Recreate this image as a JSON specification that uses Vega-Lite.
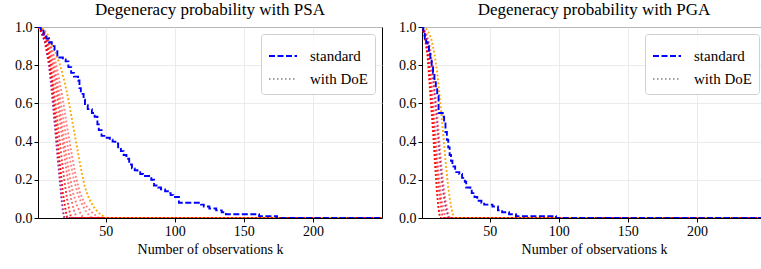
{
  "$schema": "https://vega.github.io/schema/vega-lite/v6.json",
  "padding": {"left": 14, "top": 0, "right": 0, "bottom": 0},
  "background": "white",
  "spacing": 15,
  "config": {
    "font": "Liberation Serif",
    "view": {"stroke": "black", "strokeWidth": 1},
    "title": {"font": "Liberation Serif", "fontSize": 17, "fontWeight": "normal", "color": "black", "offset": 1},
    "axis": {
      "labelFont": "Liberation Serif", "labelFontSize": 14, "labelColor": "black",
      "titleFont": "Liberation Serif", "titleFontSize": 14, "titleFontWeight": "normal", "titleColor": "black",
      "domainColor": "black", "tickColor": "black", "tickSize": 4, "labelPadding": 2,
      "gridColor": "#e6e6e6", "gridWidth": 0.8, "labelOverlap": false, "labelFlush": false
    },
    "legend": {
      "orient": "top-right", "offset": 7, "padding": 7, "strokeColor": "#d0d0d0",
      "fillColor": "rgba(255,255,255,0.85)", "cornerRadius": 3,
      "labelFont": "Liberation Serif", "labelFontSize": 15, "labelColor": "black",
      "symbolType": "stroke", "symbolSize": 784, "symbolStrokeWidth": 1.8,
      "rowPadding": 0, "labelOffset": 12, "title": null
    }
  },
  "resolve": {"scale": {"color": "independent"}},
  "datasets": {
    "psa_std": [
      {"k": 1, "p": 1.0}, {"k": 3, "p": 0.98}, {"k": 5, "p": 0.96}, {"k": 7, "p": 0.94}, {"k": 9, "p": 0.92},
      {"k": 11, "p": 0.9}, {"k": 13, "p": 0.88}, {"k": 15, "p": 0.84}, {"k": 19, "p": 0.83}, {"k": 21, "p": 0.82},
      {"k": 23, "p": 0.79}, {"k": 25, "p": 0.76}, {"k": 27, "p": 0.74}, {"k": 30, "p": 0.72}, {"k": 31, "p": 0.68},
      {"k": 32, "p": 0.65}, {"k": 34, "p": 0.62}, {"k": 35, "p": 0.59}, {"k": 37, "p": 0.57}, {"k": 40, "p": 0.55},
      {"k": 42, "p": 0.53}, {"k": 44, "p": 0.49}, {"k": 45, "p": 0.46}, {"k": 47, "p": 0.43}, {"k": 49, "p": 0.42},
      {"k": 53, "p": 0.41}, {"k": 55, "p": 0.4}, {"k": 57, "p": 0.39}, {"k": 59, "p": 0.37}, {"k": 61, "p": 0.35},
      {"k": 63, "p": 0.33}, {"k": 65, "p": 0.31}, {"k": 67, "p": 0.28}, {"k": 69, "p": 0.26}, {"k": 71, "p": 0.25},
      {"k": 73, "p": 0.24}, {"k": 75, "p": 0.23}, {"k": 77, "p": 0.22}, {"k": 83, "p": 0.2}, {"k": 85, "p": 0.17},
      {"k": 88, "p": 0.16}, {"k": 90, "p": 0.15}, {"k": 93, "p": 0.14}, {"k": 95, "p": 0.13}, {"k": 97, "p": 0.12},
      {"k": 99, "p": 0.11}, {"k": 103, "p": 0.08}, {"k": 119, "p": 0.07}, {"k": 121, "p": 0.06}, {"k": 125, "p": 0.05},
      {"k": 130, "p": 0.04}, {"k": 134, "p": 0.03}, {"k": 137, "p": 0.02}, {"k": 161, "p": 0.01}, {"k": 174, "p": 0.0},
      {"k": 250, "p": 0.0}
    ],
    "pga_std": [
      {"k": 1, "p": 1.0}, {"k": 2, "p": 0.97}, {"k": 3, "p": 0.94}, {"k": 4, "p": 0.92}, {"k": 5, "p": 0.9},
      {"k": 6, "p": 0.86}, {"k": 7, "p": 0.83}, {"k": 8, "p": 0.79}, {"k": 9, "p": 0.76}, {"k": 10, "p": 0.72},
      {"k": 11, "p": 0.68}, {"k": 12, "p": 0.64}, {"k": 13, "p": 0.55}, {"k": 16, "p": 0.53}, {"k": 17, "p": 0.5},
      {"k": 18, "p": 0.45}, {"k": 19, "p": 0.41}, {"k": 20, "p": 0.37}, {"k": 21, "p": 0.33}, {"k": 22, "p": 0.3},
      {"k": 23, "p": 0.27}, {"k": 25, "p": 0.24}, {"k": 28, "p": 0.23}, {"k": 30, "p": 0.21}, {"k": 32, "p": 0.19},
      {"k": 33, "p": 0.16}, {"k": 36, "p": 0.15}, {"k": 37, "p": 0.13}, {"k": 39, "p": 0.11}, {"k": 41, "p": 0.09},
      {"k": 44, "p": 0.08}, {"k": 46, "p": 0.07}, {"k": 52, "p": 0.06}, {"k": 56, "p": 0.04}, {"k": 59, "p": 0.03},
      {"k": 64, "p": 0.02}, {"k": 69, "p": 0.01}, {"k": 98, "p": 0.0}, {"k": 250, "p": 0.0}
    ],
    "psa_doe": [
      {"run": "L1", "k": 1, "p": 1}, {"run": "L1", "k": 3, "p": 0.98}, {"run": "L1", "k": 6, "p": 0.92}, {"run": "L1", "k": 9, "p": 0.8}, {"run": "L1", "k": 11, "p": 0.66}, {"run": "L1", "k": 13, "p": 0.5}, {"run": "L1", "k": 15, "p": 0.33}, {"run": "L1", "k": 17, "p": 0.18}, {"run": "L1", "k": 18, "p": 0.1}, {"run": "L1", "k": 19, "p": 0.04}, {"run": "L1", "k": 20, "p": 0}, {"run": "L1", "k": 250, "p": 0},
      {"run": "L2", "k": 1, "p": 1}, {"run": "L2", "k": 3, "p": 0.98}, {"run": "L2", "k": 6, "p": 0.93}, {"run": "L2", "k": 9, "p": 0.83}, {"run": "L2", "k": 11, "p": 0.72}, {"run": "L2", "k": 13, "p": 0.57}, {"run": "L2", "k": 15, "p": 0.42}, {"run": "L2", "k": 17, "p": 0.27}, {"run": "L2", "k": 19, "p": 0.13}, {"run": "L2", "k": 21, "p": 0.04}, {"run": "L2", "k": 22, "p": 0}, {"run": "L2", "k": 250, "p": 0},
      {"run": "L3", "k": 1, "p": 1}, {"run": "L3", "k": 4, "p": 0.98}, {"run": "L3", "k": 7, "p": 0.93}, {"run": "L3", "k": 10, "p": 0.82}, {"run": "L3", "k": 12, "p": 0.7}, {"run": "L3", "k": 14, "p": 0.58}, {"run": "L3", "k": 16, "p": 0.45}, {"run": "L3", "k": 18, "p": 0.32}, {"run": "L3", "k": 20, "p": 0.2}, {"run": "L3", "k": 22, "p": 0.1}, {"run": "L3", "k": 24, "p": 0.03}, {"run": "L3", "k": 25, "p": 0}, {"run": "L3", "k": 250, "p": 0},
      {"run": "L4", "k": 1, "p": 1}, {"run": "L4", "k": 4, "p": 0.98}, {"run": "L4", "k": 7, "p": 0.94}, {"run": "L4", "k": 10, "p": 0.85}, {"run": "L4", "k": 13, "p": 0.72}, {"run": "L4", "k": 15, "p": 0.62}, {"run": "L4", "k": 17, "p": 0.5}, {"run": "L4", "k": 19, "p": 0.39}, {"run": "L4", "k": 21, "p": 0.28}, {"run": "L4", "k": 23, "p": 0.18}, {"run": "L4", "k": 25, "p": 0.1}, {"run": "L4", "k": 27, "p": 0.04}, {"run": "L4", "k": 29, "p": 0}, {"run": "L4", "k": 250, "p": 0},
      {"run": "L5", "k": 1, "p": 1}, {"run": "L5", "k": 5, "p": 0.98}, {"run": "L5", "k": 8, "p": 0.93}, {"run": "L5", "k": 11, "p": 0.84}, {"run": "L5", "k": 14, "p": 0.72}, {"run": "L5", "k": 17, "p": 0.56}, {"run": "L5", "k": 20, "p": 0.4}, {"run": "L5", "k": 23, "p": 0.26}, {"run": "L5", "k": 26, "p": 0.14}, {"run": "L5", "k": 29, "p": 0.07}, {"run": "L5", "k": 32, "p": 0.02}, {"run": "L5", "k": 34, "p": 0}, {"run": "L5", "k": 250, "p": 0},
      {"run": "L6", "k": 1, "p": 1}, {"run": "L6", "k": 5, "p": 0.98}, {"run": "L6", "k": 9, "p": 0.92}, {"run": "L6", "k": 12, "p": 0.84}, {"run": "L6", "k": 15, "p": 0.72}, {"run": "L6", "k": 18, "p": 0.58}, {"run": "L6", "k": 21, "p": 0.44}, {"run": "L6", "k": 24, "p": 0.31}, {"run": "L6", "k": 27, "p": 0.2}, {"run": "L6", "k": 30, "p": 0.12}, {"run": "L6", "k": 33, "p": 0.07}, {"run": "L6", "k": 36, "p": 0.03}, {"run": "L6", "k": 40, "p": 0}, {"run": "L6", "k": 250, "p": 0},
      {"run": "L7", "k": 1, "p": 1}, {"run": "L7", "k": 5, "p": 0.98}, {"run": "L7", "k": 9, "p": 0.93}, {"run": "L7", "k": 13, "p": 0.84}, {"run": "L7", "k": 16, "p": 0.74}, {"run": "L7", "k": 19, "p": 0.62}, {"run": "L7", "k": 22, "p": 0.48}, {"run": "L7", "k": 25, "p": 0.35}, {"run": "L7", "k": 28, "p": 0.23}, {"run": "L7", "k": 31, "p": 0.14}, {"run": "L7", "k": 35, "p": 0.07}, {"run": "L7", "k": 40, "p": 0.03}, {"run": "L7", "k": 45, "p": 0}, {"run": "L7", "k": 250, "p": 0},
      {"run": "L8", "k": 1, "p": 1}, {"run": "L8", "k": 5, "p": 0.99}, {"run": "L8", "k": 8, "p": 0.96}, {"run": "L8", "k": 11, "p": 0.91}, {"run": "L8", "k": 14, "p": 0.86}, {"run": "L8", "k": 17, "p": 0.8}, {"run": "L8", "k": 20, "p": 0.72}, {"run": "L8", "k": 23, "p": 0.62}, {"run": "L8", "k": 26, "p": 0.5}, {"run": "L8", "k": 29, "p": 0.38}, {"run": "L8", "k": 32, "p": 0.26}, {"run": "L8", "k": 35, "p": 0.16}, {"run": "L8", "k": 38, "p": 0.1}, {"run": "L8", "k": 42, "p": 0.05}, {"run": "L8", "k": 46, "p": 0.02}, {"run": "L8", "k": 50, "p": 0}, {"run": "L8", "k": 250, "p": 0}
    ],
    "pga_doe": [
      {"run": "M1", "k": 1, "p": 1}, {"run": "M1", "k": 3, "p": 0.95}, {"run": "M1", "k": 5, "p": 0.85}, {"run": "M1", "k": 7, "p": 0.65}, {"run": "M1", "k": 9, "p": 0.45}, {"run": "M1", "k": 11, "p": 0.22}, {"run": "M1", "k": 12, "p": 0.12}, {"run": "M1", "k": 13, "p": 0.05}, {"run": "M1", "k": 14, "p": 0}, {"run": "M1", "k": 250, "p": 0},
      {"run": "M2", "k": 1, "p": 1}, {"run": "M2", "k": 3, "p": 0.96}, {"run": "M2", "k": 5, "p": 0.88}, {"run": "M2", "k": 7, "p": 0.72}, {"run": "M2", "k": 9, "p": 0.53}, {"run": "M2", "k": 11, "p": 0.33}, {"run": "M2", "k": 13, "p": 0.16}, {"run": "M2", "k": 15, "p": 0.05}, {"run": "M2", "k": 16, "p": 0}, {"run": "M2", "k": 250, "p": 0},
      {"run": "M3", "k": 1, "p": 1}, {"run": "M3", "k": 3, "p": 0.97}, {"run": "M3", "k": 5, "p": 0.9}, {"run": "M3", "k": 7, "p": 0.78}, {"run": "M3", "k": 9, "p": 0.61}, {"run": "M3", "k": 11, "p": 0.42}, {"run": "M3", "k": 13, "p": 0.24}, {"run": "M3", "k": 15, "p": 0.1}, {"run": "M3", "k": 17, "p": 0.03}, {"run": "M3", "k": 18, "p": 0}, {"run": "M3", "k": 250, "p": 0},
      {"run": "M4", "k": 1, "p": 1}, {"run": "M4", "k": 3, "p": 0.97}, {"run": "M4", "k": 6, "p": 0.9}, {"run": "M4", "k": 8, "p": 0.8}, {"run": "M4", "k": 10, "p": 0.65}, {"run": "M4", "k": 12, "p": 0.48}, {"run": "M4", "k": 14, "p": 0.3}, {"run": "M4", "k": 16, "p": 0.15}, {"run": "M4", "k": 18, "p": 0.06}, {"run": "M4", "k": 20, "p": 0}, {"run": "M4", "k": 250, "p": 0},
      {"run": "M5", "k": 1, "p": 1}, {"run": "M5", "k": 4, "p": 0.97}, {"run": "M5", "k": 6, "p": 0.92}, {"run": "M5", "k": 8, "p": 0.83}, {"run": "M5", "k": 10, "p": 0.7}, {"run": "M5", "k": 12, "p": 0.54}, {"run": "M5", "k": 14, "p": 0.36}, {"run": "M5", "k": 16, "p": 0.2}, {"run": "M5", "k": 18, "p": 0.09}, {"run": "M5", "k": 20, "p": 0.02}, {"run": "M5", "k": 21, "p": 0}, {"run": "M5", "k": 250, "p": 0},
      {"run": "M6", "k": 1, "p": 1}, {"run": "M6", "k": 4, "p": 0.99}, {"run": "M6", "k": 6, "p": 0.97}, {"run": "M6", "k": 8, "p": 0.93}, {"run": "M6", "k": 10, "p": 0.86}, {"run": "M6", "k": 12, "p": 0.76}, {"run": "M6", "k": 14, "p": 0.62}, {"run": "M6", "k": 16, "p": 0.47}, {"run": "M6", "k": 18, "p": 0.3}, {"run": "M6", "k": 20, "p": 0.16}, {"run": "M6", "k": 22, "p": 0.06}, {"run": "M6", "k": 24, "p": 0}, {"run": "M6", "k": 250, "p": 0}
    ]
  },
  "hconcat": [
    {
      "title": "Degeneracy probability with PSA",
      "width": 344, "height": 191,
      "resolve": {"scale": {"color": "independent"}},
      "encoding": {
        "x": {"field": "k", "type": "quantitative", "scale": {"domain": [1, 250], "nice": false, "zero": false},
              "axis": {"values": [50, 100, 150, 200], "title": "Number of observations k", "grid": true, "labelOverlap": false}},
        "y": {"field": "p", "type": "quantitative", "scale": {"domain": [0, 1], "nice": false},
              "axis": {"values": [0, 0.2, 0.4, 0.6, 0.8, 1], "format": ".1f", "title": null, "labelOverlap": false, "labelFlush": false}}
      },
      "layer": [
        {
          "data": {"name": "psa_doe"},
          "mark": {"type": "line", "strokeDash": [1.8, 2.2], "strokeWidth": 1.9, "clip": true},
          "encoding": {
            "detail": {"field": "run"},
            "color": {"field": "run", "type": "nominal", "legend": null,
                      "scale": {"domain": ["L1", "L2", "L3", "L4", "L5", "L6", "L7", "L8"],
                                "range": ["rgba(128,0,128,0.85)", "#ff0000", "rgba(255,0,0,0.8)", "rgba(255,0,0,0.6)", "rgba(255,0,0,0.55)", "rgba(255,0,0,0.5)", "rgba(255,0,0,0.5)", "#ffa500"]}}
          }
        },
        {
          "data": {"name": "psa_std"},
          "transform": [{"calculate": "'standard'", "as": "series"}],
          "mark": {"type": "line", "interpolate": "step-after", "strokeWidth": 1.9, "strokeDash": [6, 2.5], "clip": true},
          "encoding": {
            "color": {"field": "series", "type": "nominal",
                      "scale": {"domain": ["standard", "with DoE"], "range": ["#0000ff", "#a0a0a0"]},
                      "legend": {"encode": {"symbols": {"update": {"strokeDash": {"signal": "datum.value === 'standard' ? [6, 2.5] : [1.5, 2.5]"}}}}}}
          }
        }
      ]
    },
    {
      "title": "Degeneracy probability with PGA",
      "width": 344, "height": 191,
      "resolve": {"scale": {"color": "independent"}},
      "encoding": {
        "x": {"field": "k", "type": "quantitative", "scale": {"domain": [1, 250], "nice": false, "zero": false},
              "axis": {"values": [50, 100, 150, 200], "title": "Number of observations k", "grid": true, "labelOverlap": false}},
        "y": {"field": "p", "type": "quantitative", "scale": {"domain": [0, 1], "nice": false},
              "axis": {"values": [0, 0.2, 0.4, 0.6, 0.8, 1], "format": ".1f", "title": null, "labelOverlap": false, "labelFlush": false}}
      },
      "layer": [
        {
          "data": {"name": "pga_doe"},
          "mark": {"type": "line", "strokeDash": [1.8, 2.2], "strokeWidth": 1.9, "clip": true},
          "encoding": {
            "detail": {"field": "run"},
            "color": {"field": "run", "type": "nominal", "legend": null,
                      "scale": {"domain": ["M1", "M2", "M3", "M4", "M5", "M6"],
                                "range": ["#ff0000", "rgba(255,0,0,0.8)", "rgba(255,0,0,0.6)", "rgba(128,0,128,0.7)", "rgba(255,0,0,0.55)", "#ffa500"]}}
          }
        },
        {
          "data": {"name": "pga_std"},
          "transform": [{"calculate": "'standard'", "as": "series"}],
          "mark": {"type": "line", "interpolate": "step-after", "strokeWidth": 1.9, "strokeDash": [6, 2.5], "clip": true},
          "encoding": {
            "color": {"field": "series", "type": "nominal",
                      "scale": {"domain": ["standard", "with DoE"], "range": ["#0000ff", "#a0a0a0"]},
                      "legend": {"encode": {"symbols": {"update": {"strokeDash": {"signal": "datum.value === 'standard' ? [6, 2.5] : [1.5, 2.5]"}}}}}}
          }
        }
      ]
    }
  ]
}
